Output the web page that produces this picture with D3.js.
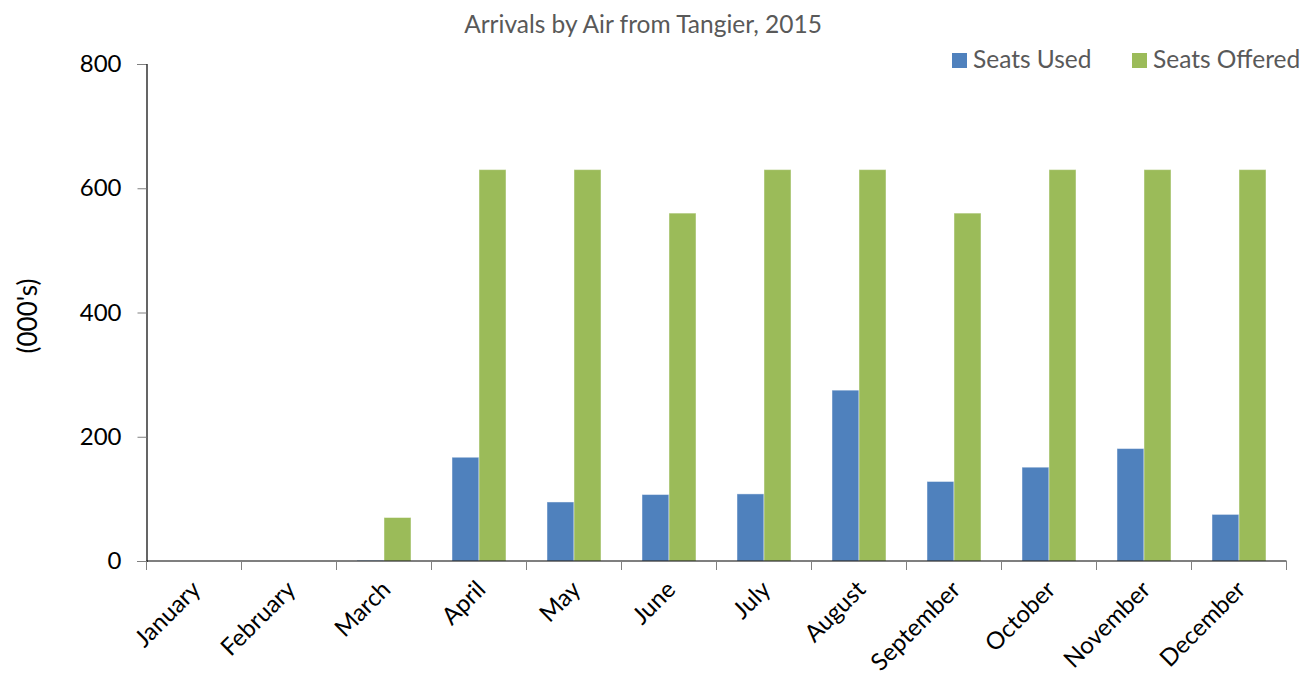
<!DOCTYPE html>
<html>
<head>
<meta charset="utf-8">
<script src="https://cdn.jsdelivr.net/npm/d3@7"></script>
<style>
  html, body { margin: 0; padding: 0; background: #fff; }
  svg { display: block; font-family: Lato, "Open Sans", sans-serif; }
</style>
</head>
<body>
<svg id="chart" width="1314" height="675"></svg>
<script>
const months = ["January","February","March","April","May","June","July","August","September","October","November","December"];
const seriesNames = ["Seats Used","Seats Offered"];
const seatsUsed = [0, 0, 1, 167, 95, 107, 108, 275, 128, 151, 181, 75];
const seatsOffered = [0, 0, 70, 630, 630, 560, 630, 630, 560, 630, 630, 630];
const yTicks = [0, 200, 400, 600, 800];
const colors = ["#4F81BD", "#9BBB59"];
const title = "Arrivals by Air from Tangier, 2015";
const yTitle = "(000's)";

const data = months.map((m, i) => ({ month: m, values: [seatsUsed[i], seatsOffered[i]] }));

const svg = d3.select("#chart");
const plotLeft = 146.5, plotRight = 1286.5, plotTop = 64, plotBottom = 561;

const x0 = d3.scaleBand().domain(months).range([plotLeft, plotRight]).padding(0);
const x1 = d3.scaleBand().domain(seriesNames).range([0, x0.bandwidth()]).paddingInner(0).paddingOuter(0.76);
const y = d3.scaleLinear().domain([0, 800]).range([plotBottom, plotTop]);

// bars
const g = svg.append("g");
g.selectAll("g.cat").data(data).join("g")
  .attr("class", "cat")
  .attr("transform", d => `translate(${x0(d.month)},0)`)
  .selectAll("rect").data(d => d.values.map((v, j) => ({ v, s: seriesNames[j], j })))
  .join("rect")
  .attr("x", d => x1(d.s))
  .attr("width", x1.bandwidth())
  .attr("y", d => y(d.v))
  .attr("height", d => y(0) - y(d.v))
  .attr("fill", d => colors[d.j])
  .attr("stroke", "#ffffff")
  .attr("stroke-opacity", 0.45)
  .attr("stroke-width", 1);

// y axis
const yAxis = d3.axisLeft(y).tickValues(yTicks).tickSize(9).tickPadding(16).tickFormat(d3.format("d"));
const ya = svg.append("g").attr("transform", `translate(${plotLeft},0)`).call(yAxis);
ya.select(".domain").attr("stroke", "#000").attr("stroke-width", 1.2);
ya.selectAll(".tick line").attr("stroke", "#808080");
ya.selectAll(".tick text").attr("font-size", 24).attr("fill", "#000").attr("font-family", "Lato, sans-serif");

// x axis (ticks between categories)
const xa = svg.append("g");
xa.append("line").attr("x1", plotLeft).attr("x2", plotRight).attr("y1", plotBottom).attr("y2", plotBottom)
  .attr("stroke", "#000").attr("stroke-width", 1.2);
const bounds = months.map(m => x0(m)).concat([x0(months[months.length - 1]) + x0.step()]);
xa.selectAll("line.tk").data(bounds).join("line").attr("class", "tk")
  .attr("x1", d => d).attr("x2", d => d).attr("y1", plotBottom).attr("y2", plotBottom + 9)
  .attr("stroke", "#808080");
xa.selectAll("text.lbl").data(months).join("text").attr("class", "lbl")
  .attr("transform", d => `translate(${x0(d) + x0.bandwidth() / 2 + 8},${plotBottom + 30}) rotate(-45)`)
  .attr("text-anchor", "end")
  .attr("font-size", 24)
  .attr("fill", "#000")
  .text(d => d);

// title
svg.append("text").attr("x", 643).attr("y", 33).attr("text-anchor", "middle")
  .attr("font-size", 24.5).attr("fill", "#595959").text(title);

// y title
svg.append("text").attr("transform", `translate(37,316) rotate(-90)`)
  .attr("text-anchor", "middle").attr("font-size", 26).attr("fill", "#000").text(yTitle);

// legend
const legX = [952, 1132];
const leg = svg.append("g");
seriesNames.forEach((s, i) => {
  leg.append("rect").attr("x", legX[i]).attr("y", 53).attr("width", 15).attr("height", 15).attr("fill", colors[i]);
  leg.append("text").attr("x", legX[i] + 21).attr("y", 68).attr("font-size", 24.5).attr("fill", "#595959").text(s);
});
</script>
</body>
</html>
